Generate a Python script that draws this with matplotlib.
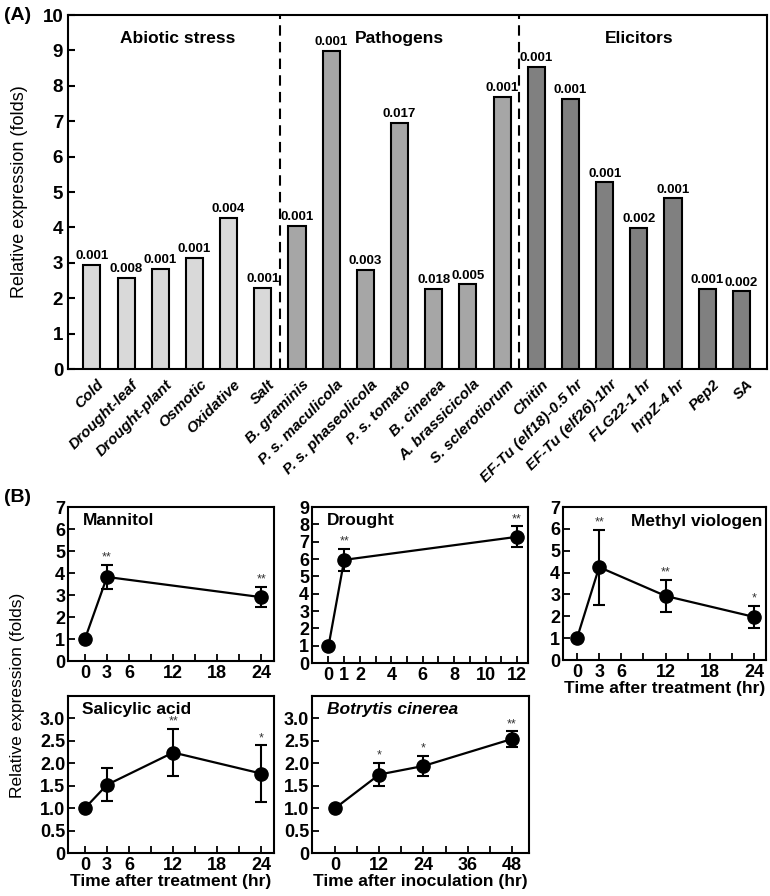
import matplotlib
matplotlib.use("Agg")
import matplotlib.pyplot as plt
import matplotlib.transforms as mtransforms
import numpy as np

plt.rcParams["font.family"] = ["Liberation Sans", "DejaVu Sans"]

# ---- (A) bar data ----
categories = ["Cold", "Drought-leaf", "Drought-plant", "Osmotic", "Oxidative", "Salt",
              "B. graminis", "P. s. maculicola", "P. s. phaseolicola", "P. s. tomato",
              "B. cinerea", "A. brassicicola", "S. sclerotiorum",
              "Chitin", "EF-Tu (elf18)-0.5 hr", "EF-Tu (elf26)-1hr", "FLG22-1 hr",
              "hrpZ-4 hr", "Pep2", "SA"]
values = [2.95, 2.58, 2.83, 3.14, 4.26, 2.29,
          4.04, 8.98, 2.79, 6.96, 2.26, 2.39, 7.69,
          8.54, 7.62, 5.27, 3.99, 4.82, 2.26, 2.19]
pvalues = ["0.001", "0.008", "0.001", "0.001", "0.004", "0.001",
           "0.001", "0.001", "0.003", "0.017", "0.018", "0.005", "0.001",
           "0.001", "0.001", "0.001", "0.002", "0.001", "0.001", "0.002"]
groups = ["Abiotic stress", "Pathogens", "Elicitors"]
group_sizes = [6, 7, 7]
group_colors = ["#d9d9d9", "#a6a6a6", "#808080"]

# ---- (B) time courses ----
mannitol_t = [0, 3, 24]
mannitol_y = [1.0, 3.82, 2.90]
mannitol_e = [0, 0.56, 0.46]
mannitol_s = ["", "**", "**"]

drought_t = [0, 1, 12]
drought_y = [0.97, 5.95, 7.28]
drought_e = [0, 0.65, 0.6]
drought_s = ["", "**", "**"]

mv_t = [0, 3, 12, 24]
mv_y = [1.0, 4.25, 2.93, 1.97]
mv_e = [0, 1.72, 0.75, 0.5]
mv_s = ["", "**", "**", "*"]

sa_t = [0, 3, 12, 24]
sa_y = [1.0, 1.52, 2.24, 1.77]
sa_e = [0, 0.37, 0.52, 0.63]
sa_s = ["", "", "**", "*"]

bc_t = [0, 12, 24, 48]
bc_y = [1.0, 1.75, 1.94, 2.54]
bc_e = [0, 0.26, 0.22, 0.17]
bc_s = ["", "*", "*", "**"]

W, H = 770, 896
fig = plt.figure(figsize=(W / 100, H / 100), dpi=100)


def px_axes(l, t, r, b):
    return fig.add_axes([l / W, 1 - b / H, (r - l) / W, (b - t) / H])


# ================= (A) =================
ax = px_axes(68, 15, 767, 369)
colors = []
for c, n in zip(group_colors, group_sizes):
    colors += [c] * n
x = np.arange(len(categories))
ax.bar(x, values, 0.5, color=colors, edgecolor="black", linewidth=1.5, zorder=3)
for xi, v, p in zip(x, values, pvalues):
    ax.annotate(p, (xi, v), xytext=(0, 2), textcoords="offset points",
                ha="center", va="bottom", fontsize=9.5, fontweight="bold")

bounds = np.cumsum(group_sizes)
for bnd in bounds[:-1]:
    ax.axvline(bnd - 0.5, color="black", lw=1.5, ls=(0, (5, 3)), zorder=2)
starts = np.concatenate([[0], bounds[:-1]])
for g, s, n in zip(groups, starts, group_sizes):
    ax.text(s + (n - 1) / 2, 9.35, g, ha="center", va="center",
            fontsize=12.5, fontweight="bold")

ax.set_xlim(-0.7, len(categories) - 0.25)
ax.set_ylim(0, 10)
ax.set_yticks(range(0, 11))
ax.tick_params(axis="y", direction="in", length=5, width=1.5, labelsize=13.5)
for lab in ax.get_yticklabels():
    lab.set_fontweight("bold")
ax.set_xticks(x)
ax.set_xticklabels(categories, rotation=45, ha="right", rotation_mode="anchor",
                   fontsize=11, fontweight="bold", fontstyle="italic")
ax.tick_params(axis="x", length=0, pad=6)
off = mtransforms.ScaledTranslation(5 / 100, 0, fig.dpi_scale_trans)
for lab in ax.get_xticklabels():
    lab.set_transform(lab.get_transform() + off)
for sp in ax.spines.values():
    sp.set_linewidth(1.5)

fig.text(4 / W, 1 - 15 / H, "(A)", fontsize=14, fontweight="bold", va="center")
fig.text(20 / W, 1 - 192 / H, "Relative expression (folds)", rotation=90,
         fontsize=13, ha="center", va="center")

# ================= (B) =================
def panel(box, t, y, e, stars, xlim, xticks, xlabels, xminor, ylim, yticks, ylabels,
          title, title_loc="left", italic=False, xlabel=None):
    a = px_axes(*box)
    a.errorbar(t, y, yerr=e, color="black", lw=1.6, elinewidth=1.5, capsize=4,
               capthick=1.5, marker="o", markersize=9.5, zorder=3)
    for ti, yi, ei, s in zip(t, y, e, stars):
        if s:
            a.annotate(s, (ti, yi + ei), xytext=(0, 1), textcoords="offset points",
                       ha="center", va="bottom", fontsize=9, color="#333333")
    a.set_xlim(*xlim)
    a.set_ylim(*ylim)
    a.set_xticks(xticks)
    a.set_xticklabels(xlabels)
    a.set_xticks(xminor, minor=True)
    a.set_yticks(yticks)
    a.set_yticklabels(ylabels)
    a.tick_params(which="both", direction="in", width=1.3, labelsize=13)
    a.tick_params(which="major", length=5)
    a.tick_params(which="minor", length=5)
    a.tick_params(axis="x", pad=3)
    a.tick_params(axis="y", pad=2)
    for lab in a.get_xticklabels() + a.get_yticklabels():
        lab.set_fontweight("bold")
    for sp in a.spines.values():
        sp.set_linewidth(1.5)
    if title_loc == "left":
        a.text(0.07, 0.915, title, transform=a.transAxes, ha="left", va="center",
               fontsize=12.5, fontweight="bold",
               fontstyle="italic" if italic else "normal")
    else:
        a.text(0.98, 0.905, title, transform=a.transAxes, ha="right", va="center",
               fontsize=12.5, fontweight="bold")
    if xlabel:
        a.set_xlabel(xlabel, fontsize=12.5, fontweight="bold", labelpad=0)
    return a


hr24 = [0, 3, 6, 12, 18, 24]
panel((68, 507, 274, 661), mannitol_t, mannitol_y, mannitol_e, mannitol_s,
      (-2.3, 25.7), hr24, [str(v) for v in hr24], range(0, 25, 3),
      (0, 7), range(0, 8), [str(v) for v in range(0, 8)], "Mannitol")
panel((312, 507, 528, 663), drought_t, drought_y, drought_e, drought_s,
      (-1.05, 12.7), [0, 1, 2, 4, 6, 8, 10, 12], ["0", "1", "2", "4", "6", "8", "10", "12"],
      range(0, 13), (0, 9), range(0, 10), [str(v) for v in range(0, 10)], "Drought")
panel((563, 507, 766, 660), mv_t, mv_y, mv_e, mv_s,
      (-1.9, 25.6), hr24, [str(v) for v in hr24], range(0, 25, 3),
      (0, 7), range(0, 8), [str(v) for v in range(0, 8)], "Methyl viologen",
      title_loc="right", xlabel="Time after treatment (hr)")
half = [0, 0.5, 1.0, 1.5, 2.0, 2.5, 3.0]
half_lab = ["0", "0.5", "1.0", "1.5", "2.0", "2.5", "3.0"]
panel((68, 696, 274, 853), sa_t, sa_y, sa_e, sa_s,
      (-2.3, 25.7), hr24, [str(v) for v in hr24], range(0, 25, 3),
      (0, 3.5), half, half_lab, "Salicylic acid", xlabel="Time after treatment (hr)")
panel((312, 696, 529, 853), bc_t, bc_y, bc_e, bc_s,
      (-6.3, 52.7), [0, 12, 24, 36, 48], ["0", "12", "24", "36", "48"], range(0, 49, 6),
      (0, 3.5), half, half_lab, "Botrytis cinerea", italic=True,
      xlabel="Time after inoculation (hr)")

fig.text(4 / W, 1 - 497 / H, "(B)", fontsize=14, fontweight="bold", va="center")
fig.text(18 / W, 1 - 695 / H, "Relative expression (folds)", rotation=90,
         fontsize=12.5, ha="center", va="center")

fig.savefig("out.png", dpi=100)
plt.close(fig)
